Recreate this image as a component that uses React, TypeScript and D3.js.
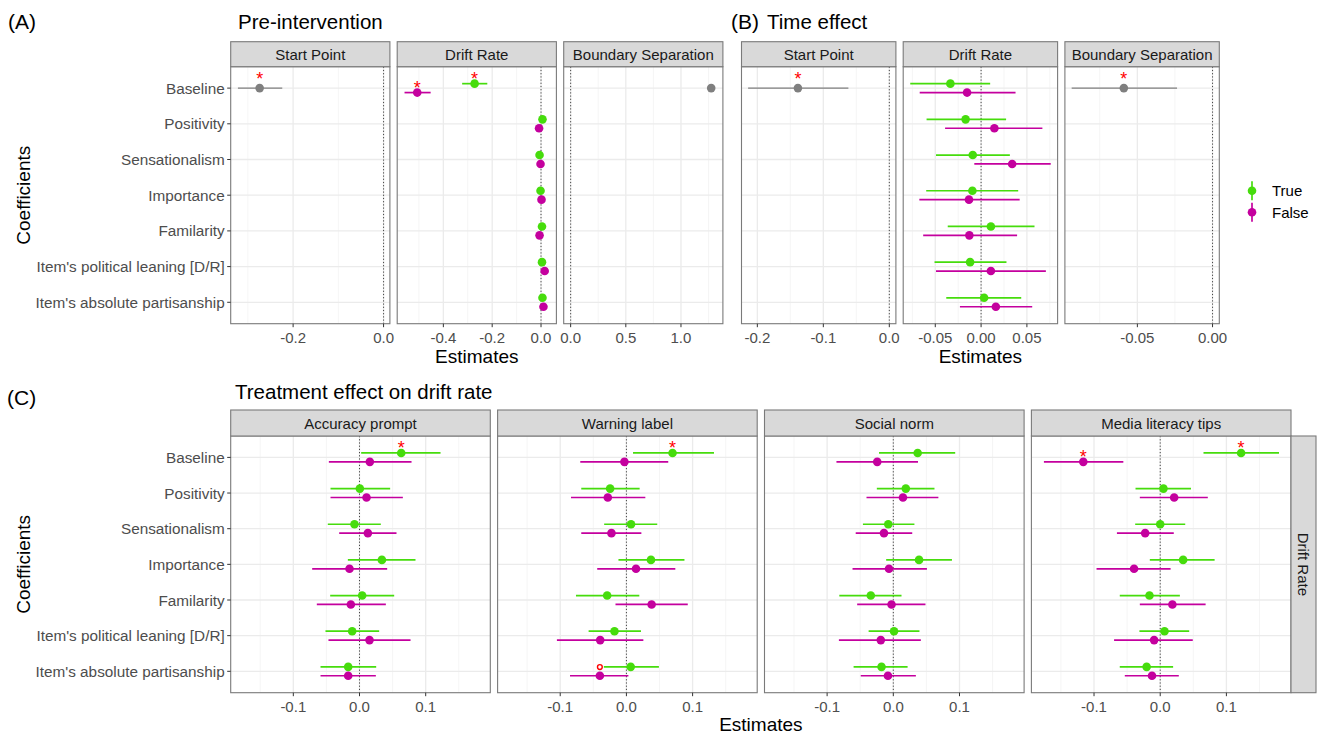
import React from 'react';
import * as d3 from 'd3';

// ---------------- DATA ----------------
const coefficients = [
  'Baseline',
  'Positivity',
  'Sensationalism',
  'Importance',
  'Familarity',
  "Item's political leaning [D/R]",
  "Item's absolute partisanship",
];

const legendLabels = ['True', 'False'];

// [estimate, lower, upper]
// (A) Pre-intervention
const preStartPoint = [[-0.274, -0.322, -0.224]];
const preStartPointSig = ['*'];
const preDriftTrue = [
  [-0.272, -0.323, -0.22],
  [0.006, 0.0, 0.012],
  [-0.006, -0.012, 0.0],
  [-0.002, -0.008, 0.004],
  [0.004, -0.002, 0.01],
  [0.004, -0.002, 0.01],
  [0.006, 0.0, 0.012],
];
const preDriftTrueSig = ['*', '', '', '', '', '', ''];
const preDriftFalse = [
  [-0.507, -0.559, -0.452],
  [-0.008, -0.014, -0.002],
  [-0.002, -0.008, 0.004],
  [0.002, -0.004, 0.008],
  [-0.006, -0.012, 0.0],
  [0.015, 0.009, 0.021],
  [0.01, 0.004, 0.016],
];
const preDriftFalseSig = ['*', '', '', '', '', '', ''];
const preBoundary = [[1.274, 1.255, 1.295]];
const preBoundarySig = [''];

// (B) Time effect
const timeStartPoint = [[-0.1385, -0.214, -0.062]];
const timeStartPointSig = ['*'];
const timeDriftTrue = [
  [-0.0335, -0.0773, 0.0099],
  [-0.0169, -0.0595, 0.0273],
  [-0.0091, -0.0492, 0.0314],
  [-0.0095, -0.0599, 0.0405],
  [0.0107, -0.0364, 0.0583],
  [-0.012, -0.0508, 0.0277],
  [0.0033, -0.038, 0.0438],
];
const timeDriftFalse = [
  [-0.0153, -0.067, 0.0376],
  [0.0145, -0.0393, 0.0669],
  [0.0339, -0.0074, 0.076],
  [-0.0132, -0.0674, 0.0421],
  [-0.0128, -0.0632, 0.0393],
  [0.0107, -0.0492, 0.0707],
  [0.0161, -0.0231, 0.0558],
];
const timeBoundary = [[-0.059, -0.0937, -0.0236]];
const timeBoundarySig = ['*'];

// (C) Treatment effect on drift rate
const treatments = ['Accuracy prompt', 'Warning label', 'Social norm', 'Media literacy tips'];
const accuracyTrue = [
  [0.063, 0.0025, 0.1224],
  [0.0005, -0.0438, 0.0463],
  [-0.0076, -0.0479, 0.0322],
  [0.0338, -0.0176, 0.0846],
  [0.004, -0.0443, 0.0524],
  [-0.0111, -0.0514, 0.0297],
  [-0.0171, -0.0589, 0.0252],
];
const accuracyFalse = [
  [0.0156, -0.0463, 0.0786],
  [0.0106, -0.0438, 0.0655],
  [0.0126, -0.0307, 0.0559],
  [-0.0151, -0.0715, 0.0418],
  [-0.0131, -0.0645, 0.0398],
  [0.0151, -0.0469, 0.0771],
  [-0.0171, -0.0589, 0.0247],
];
const warningTrue = [
  [0.0697, 0.01, 0.1323],
  [-0.0246, -0.0682, 0.02],
  [0.007, -0.0336, 0.0466],
  [0.0371, -0.012, 0.0877],
  [-0.0291, -0.0762, 0.0195],
  [-0.018, -0.0571, 0.022],
  [0.0065, -0.0341, 0.0491],
];
const warningFalse = [
  [-0.003, -0.0697, 0.0632],
  [-0.0281, -0.0837, 0.0286],
  [-0.0226, -0.0682, 0.0226],
  [0.0145, -0.0441, 0.0739],
  [0.0381, -0.0165, 0.0927],
  [-0.0396, -0.105, 0.0256],
  [-0.0401, -0.0852, 0.003],
];
const socialTrue = [
  [0.0368, -0.0216, 0.0935],
  [0.0189, -0.0249, 0.0622],
  [-0.0076, -0.0459, 0.0319],
  [0.0389, -0.0108, 0.0886],
  [-0.034, -0.0816, 0.0124],
  [0.0011, -0.0373, 0.0395],
  [-0.0178, -0.06, 0.0216],
];
const socialFalse = [
  [-0.0243, -0.0859, 0.0373],
  [0.0146, -0.0405, 0.0681],
  [-0.0141, -0.0568, 0.0286],
  [-0.0065, -0.0616, 0.0508],
  [-0.0027, -0.0546, 0.0486],
  [-0.0189, -0.0822, 0.0416],
  [-0.0081, -0.0492, 0.0341],
];
const mediaTrue = [
  [0.1222, 0.0654, 0.1795],
  [0.0049, -0.0373, 0.0465],
  [0.0, -0.0378, 0.0378],
  [0.0346, -0.0157, 0.0822],
  [-0.0162, -0.0611, 0.0297],
  [0.0065, -0.0314, 0.0438],
  [-0.0205, -0.0611, 0.0195],
];
const mediaFalse = [
  [-0.1162, -0.1757, -0.0557],
  [0.0211, -0.0308, 0.0719],
  [-0.0227, -0.0654, 0.0205],
  [-0.0395, -0.0962, 0.0157],
  [0.0184, -0.0308, 0.0686],
  [-0.0092, -0.0697, 0.0492],
  [-0.0124, -0.0535, 0.0281],
];
const accuracyTrueSig = ['*', '', '', '', '', '', ''];
const accuracyFalseSig = ['', '', '', '', '', '', ''];
const warningTrueSig = ['*', '', '', '', '', '', ''];
const warningFalseSig = ['', '', '', '', '', '', 'o'];
const socialTrueSig = ['', '', '', '', '', '', ''];
const socialFalseSig = ['', '', '', '', '', '', ''];
const mediaTrueSig = ['*', '', '', '', '', '', ''];
const mediaFalseSig = ['*', '', '', '', '', '', ''];

// axis ticks
const aStartTicks = [-0.2, 0.0];
const aStartLabels = ['-0.2', '0.0'];
const aDriftTicks = [-0.4, -0.2, 0.0];
const aDriftLabels = ['-0.4', '-0.2', '0.0'];
const aBoundTicks = [0, 0.5, 1.0];
const aBoundLabels = ['0.0', '0.5', '1.0'];
const bStartTicks = [-0.2, -0.1, 0.0];
const bStartLabels = ['-0.2', '-0.1', '0.0'];
const bDriftTicks = [-0.05, 0.0, 0.05];
const bDriftLabels = ['-0.05', '0.00', '0.05'];
const bBoundTicks = [-0.05, 0.0];
const bBoundLabels = ['-0.05', '0.00'];
const cTicks = [-0.1, 0.0, 0.1];
const cLabels = ['-0.1', '0.0', '0.1'];

// ---------------- STYLE ----------------
const GREEN = '#46DC0C';
const MAGENTA = '#C4009E';
const GRAY = '#7F7F7F';
const FONT = "'Liberation Sans', Arial, Helvetica, sans-serif";

type Series = { values: number[][]; sig: string[]; color: string; dodge: number; lw: number };

function minorTicks(ticks: number[], domain: number[]) {
  const step = ticks.length > 1 ? ticks[1] - ticks[0] : 0.1;
  const res: number[] = [];
  const first = ticks[0] - step * 3;
  for (let i = 0; i < 12; i++) {
    const v = first + step * i + step / 2;
    if (v > domain[0] && v < domain[1]) res.push(v);
  }
  return res;
}

function Facet(props: {
  x0: number; x1: number; top: number; bottom: number; stripTop: number;
  domain: number[]; ticks: number[]; labels: string[]; strip: string;
  series: Series[]; showY: boolean;
}) {
  const { x0, x1, top, bottom, stripTop, domain, ticks, labels, strip, series, showY } = props;
  const x = d3.scaleLinear().domain(domain).range([x0, x1]);
  const y = d3.scalePoint<string>().domain(coefficients).range([top, bottom]).padding(0.6);
  const step = y.step();
  const minors = minorTicks(ticks, domain);
  const rows = coefficients;
  return (
    <g>
      <rect x={x0} y={top} width={x1 - x0} height={bottom - top} fill="#fff" />
      {minors.map((m, i) => (
        <line key={'mi' + i} x1={x(m)} x2={x(m)} y1={top} y2={bottom} stroke="#F2F2F2" strokeWidth={0.8} />
      ))}
      {ticks.map((t, i) => (
        <line key={'ma' + i} x1={x(t)} x2={x(t)} y1={top} y2={bottom} stroke="#EBEBEB" strokeWidth={1.3} />
      ))}
      {rows.map((r) => (
        <line key={'h' + r} x1={x0} x2={x1} y1={y(r)} y2={y(r)} stroke="#EBEBEB" strokeWidth={1.3} />
      ))}
      <line x1={x(0)} x2={x(0)} y1={top} y2={bottom} stroke="#444" strokeWidth={1} strokeDasharray="1.2,2" />
      {series.map((s, si) => (
        <g key={'s' + si}>
          {s.values.map((v, i) => {
            const cy = (y(rows[i]) as number) + s.dodge * step * 0.125;
            const sg = s.sig[i];
            const sy = cy - (s.dodge === 0 ? step * 0.125 : 0) - 8.7;
            return (
              <g key={i}>
                <line x1={x(v[1])} x2={x(v[2])} y1={cy} y2={cy} stroke={s.color} strokeWidth={s.lw} />
                <circle cx={x(v[0])} cy={cy} r={4.3} fill={s.color} />
                {sg === '*' && (
                  <text x={x(v[0])} y={sy + 10.2} textAnchor="middle" fill="#FF0000" fontSize={18} fontFamily={FONT}>*</text>
                )}
                {sg === 'o' && (
                  <circle cx={x(v[0])} cy={sy} r={2.4} fill="#fff" stroke="#FF0000" strokeWidth={1.4} />
                )}
              </g>
            );
          })}
        </g>
      ))}
      <rect x={x0} y={top} width={x1 - x0} height={bottom - top} fill="none" stroke="#7A7A7A" strokeWidth={1.1} />
      <rect x={x0} y={stripTop} width={x1 - x0} height={top - stripTop} fill="#D9D9D9" stroke="#7A7A7A" strokeWidth={1.1} />
      <text x={(x0 + x1) / 2} y={(stripTop + top) / 2} textAnchor="middle" dominantBaseline="central" fontSize={15} fill="#1A1A1A" fontFamily={FONT}>{strip}</text>
      {ticks.map((t, i) => (
        <g key={'xt' + i}>
          <line x1={x(t)} x2={x(t)} y1={bottom} y2={bottom + 3.5} stroke="#333" strokeWidth={1} />
          <text x={x(t)} y={bottom + 14} textAnchor="middle" dominantBaseline="central" fontSize={15} fill="#4D4D4D" fontFamily={FONT}>{labels[i]}</text>
        </g>
      ))}
      {showY && rows.map((r) => (
        <g key={'yt' + r}>
          <line x1={x0 - 3.5} x2={x0} y1={y(r)} y2={y(r)} stroke="#333" strokeWidth={1} />
          <text x={x0 - 6} y={y(r)} textAnchor="end" dominantBaseline="central" fontSize={15.3} fill="#4D4D4D" fontFamily={FONT}>{r}</text>
        </g>
      ))}
    </g>
  );
}

function panelXs(left: number, right: number, n: number, gap: number) {
  const w = (right - left - gap * (n - 1)) / n;
  return d3.range(n).map((i) => [left + i * (w + gap), left + i * (w + gap) + w]);
}

export default function App() {
  const W = 1322, H = 736;
  const aTop = 66.7, aBottom = 323.7, aStrip = 41.7;
  const cTop = 436, cBottom = 692.7, cStrip = 410;
  const aX = panelXs(230.7, 722.9, 3, 7.3);
  const bX = panelXs(741.5, 1219.3, 3, 7.3);
  const cX = panelXs(230.7, 1291, 4, 7.3);

  const tS = (v: number[][], sig: string[], color: string, dodge: number, lw = 1.7): Series => ({ values: v, sig, color, dodge, lw });
  const blank = ['', '', '', '', '', '', ''];

  const cDomain = [-0.1946, 0.1976];
  const cSeries = [
    [tS(accuracyTrue, accuracyTrueSig, GREEN, -1), tS(accuracyFalse, accuracyFalseSig, MAGENTA, 1)],
    [tS(warningTrue, warningTrueSig, GREEN, -1), tS(warningFalse, warningFalseSig, MAGENTA, 1)],
    [tS(socialTrue, socialTrueSig, GREEN, -1), tS(socialFalse, socialFalseSig, MAGENTA, 1)],
    [tS(mediaTrue, mediaTrueSig, GREEN, -1), tS(mediaFalse, mediaFalseSig, MAGENTA, 1)],
  ];

  return (
    <svg width={W} height={H} style={{ position: 'absolute', left: 0, top: 0, background: '#fff' }} fontFamily={FONT}>
      <rect x={0} y={0} width={W} height={H} fill="#fff" />
      {/* titles */}
      <text x={8} y={21} dominantBaseline="central" fontSize={21} fill="#000">(A)</text>
      <text x={238} y={21} dominantBaseline="central" fontSize={20.5} fill="#000">Pre-intervention</text>
      <text x={731} y={21} dominantBaseline="central" fontSize={21} fill="#000">(B)</text>
      <text x={767} y={21} dominantBaseline="central" fontSize={20.5} fill="#000">Time effect</text>
      <text x={7} y={397} dominantBaseline="central" fontSize={21} fill="#000">(C)</text>
      <text x={235} y={391} dominantBaseline="central" fontSize={20.5} fill="#000">Treatment effect on drift rate</text>

      {/* Panel A */}
      <Facet x0={aX[0][0]} x1={aX[0][1]} top={aTop} bottom={aBottom} stripTop={aStrip} domain={[-0.338, 0.014]}
        ticks={aStartTicks} labels={aStartLabels} strip="Start Point" showY
        series={[tS(preStartPoint, preStartPointSig, GRAY, 0, 1.2)]} />
      <Facet x0={aX[1][0]} x1={aX[1][1]} top={aTop} bottom={aBottom} stripTop={aStrip} domain={[-0.589, 0.063]}
        ticks={aDriftTicks} labels={aDriftLabels} strip="Drift Rate" showY={false}
        series={[tS(preDriftTrue, preDriftTrueSig, GREEN, -1), tS(preDriftFalse, preDriftFalseSig, MAGENTA, 1)]} />
      <Facet x0={aX[2][0]} x1={aX[2][1]} top={aTop} bottom={aBottom} stripTop={aStrip} domain={[-0.063, 1.38]}
        ticks={aBoundTicks} labels={aBoundLabels} strip="Boundary Separation" showY={false}
        series={[tS(preBoundary, preBoundarySig, GRAY, 0, 1.2)]} />

      {/* Panel B */}
      <Facet x0={bX[0][0]} x1={bX[0][1]} top={aTop} bottom={aBottom} stripTop={aStrip} domain={[-0.224, 0.01]}
        ticks={bStartTicks} labels={bStartLabels} strip="Start Point" showY={false}
        series={[tS(timeStartPoint, timeStartPointSig, GRAY, 0, 1.2)]} />
      <Facet x0={bX[1][0]} x1={bX[1][1]} top={aTop} bottom={aBottom} stripTop={aStrip} domain={[-0.085, 0.0835]}
        ticks={bDriftTicks} labels={bDriftLabels} strip="Drift Rate" showY={false}
        series={[tS(timeDriftTrue, blank, GREEN, -1), tS(timeDriftFalse, blank, MAGENTA, 1)]} />
      <Facet x0={bX[2][0]} x1={bX[2][1]} top={aTop} bottom={aBottom} stripTop={aStrip} domain={[-0.0982, 0.0045]}
        ticks={bBoundTicks} labels={bBoundLabels} strip="Boundary Separation" showY={false}
        series={[tS(timeBoundary, timeBoundarySig, GRAY, 0, 1.2)]} />

      {/* Axis titles A/B */}
      <text x={(aX[0][0] + aX[2][1]) / 2} y={356} textAnchor="middle" dominantBaseline="central" fontSize={19} fill="#000">Estimates</text>
      <text x={(bX[0][0] + bX[2][1]) / 2} y={356} textAnchor="middle" dominantBaseline="central" fontSize={19} fill="#000">Estimates</text>
      <text transform={`translate(23,${(aTop + aBottom) / 2}) rotate(-90)`} textAnchor="middle" dominantBaseline="central" fontSize={19} fill="#000">Coefficients</text>

      {/* Legend */}
      {legendLabels.map((l, i) => {
        const ly = 190.7 + i * 21.6;
        const c = i === 0 ? GREEN : MAGENTA;
        return (
          <g key={l}>
            <line x1={1252} x2={1252} y1={ly - 9.5} y2={ly + 9.5} stroke={c} strokeWidth={1.7} />
            <circle cx={1252} cy={ly} r={4.3} fill={c} />
            <text x={1272} y={ly} dominantBaseline="central" fontSize={15} fill="#000">{l}</text>
          </g>
        );
      })}

      {/* Panel C */}
      {treatments.map((t, i) => (
        <Facet key={t} x0={cX[i][0]} x1={cX[i][1]} top={cTop} bottom={cBottom} stripTop={cStrip} domain={cDomain}
          ticks={cTicks} labels={cLabels} strip={t} showY={i === 0} series={cSeries[i]} />
      ))}
      <rect x={1291} y={cTop} width={25} height={cBottom - cTop} fill="#D9D9D9" stroke="#7A7A7A" strokeWidth={1.1} />
      <text transform={`translate(1303.5,${(cTop + cBottom) / 2}) rotate(90)`} textAnchor="middle" dominantBaseline="central" fontSize={15} fill="#1A1A1A">Drift Rate</text>
      <text x={(cX[0][0] + cX[3][1]) / 2} y={724} textAnchor="middle" dominantBaseline="central" fontSize={19} fill="#000">Estimates</text>
      <text transform={`translate(23,${(cTop + cBottom) / 2}) rotate(-90)`} textAnchor="middle" dominantBaseline="central" fontSize={19} fill="#000">Coefficients</text>
    </svg>
  );
}
